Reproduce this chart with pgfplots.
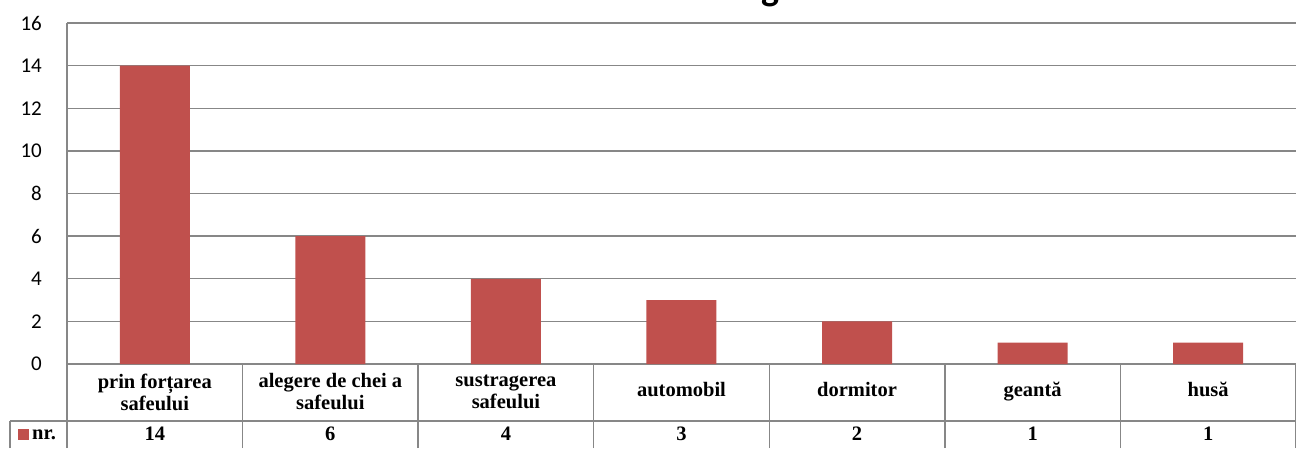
\documentclass[border=0pt]{standalone}
\usepackage{fontspec}
\setmainfont{Carlito}
\newfontfamily\tnr{Liberation Serif}
\usepackage{pgfplots}
\pgfplotsset{compat=1.18}
\definecolor{barred}{HTML}{C0504D}
\definecolor{gridg}{HTML}{878787}
\begin{document}
\begin{tikzpicture}[x=1pt,y=1pt]
\begin{axis}[
  at={(67pt,84pt)}, anchor=south west,
  scale only axis, width=1229pt, height=341pt,
  xmin=-0.5, xmax=6.5, ymin=0, ymax=16,
  ytick={0,2,...,16},
  /pgf/number format/assume math mode=true,
  ymajorgrids, grid style={gridg, line width=1.4pt},
  axis x line*=bottom, axis y line*=left,
  axis line style={gridg, line width=1.4pt, -},
  major tick length=0pt,
  xtick=data,
  xticklabels={{prin forțarea\\safeului},{alegere de chei a\\safeului},{sustragerea\\safeului},\strut automobil,\strut dormitor,\strut geantă,\strut husă},
  xticklabel style={anchor=center, yshift=-28pt, font=\tnr\bfseries\fontsize{20.5}{22}\selectfont, align=center, inner sep=0pt},
  yticklabel style={anchor=east, inner sep=0pt, xshift=-25pt, font=\fontsize{21}{23}\selectfont},
  ybar, bar width=70pt,
  clip=false,
]
\addplot[fill=barred, draw=none] coordinates {(0,14) (1,6) (2,4) (3,3) (4,2) (5,1) (6,1)};
\foreach \i/\v in {0/14,1/6,2/4,3/3,4/2,5/1,6/1}{
  \edef\tmp{\noexpand\node[font=\noexpand\tnr\noexpand\bfseries\noexpand\fontsize{20.5}{22}\noexpand\selectfont] at (axis cs:\i,0) [yshift=-70pt] {\v};}
  \tmp
}
\end{axis}
% table grid
\draw[gridg, line width=1.4pt] (10,27) -- (1296,27);
\draw[gridg, line width=1.4pt] (10,0) -- (10,27);
\foreach \k in {0,...,7}{
  \draw[gridg, line width=1.4pt] ({67+\k*175.571},0) -- ({67+\k*175.571},84);
}
\fill[barred] (18,8) rectangle (29,19);
\node[anchor=west, inner sep=0pt, font=\tnr\bfseries\fontsize{20.5}{22}\selectfont] at (32,13) {nr.};
% title, mostly cut off above the page
\node[anchor=base west, inner sep=0pt, font=\bfseries\fontsize{38}{40}\selectfont] at (761,447) {g};
\pgfresetboundingbox
\path[use as bounding box] (0,0) rectangle (1296,448);
\end{tikzpicture}
\end{document}
